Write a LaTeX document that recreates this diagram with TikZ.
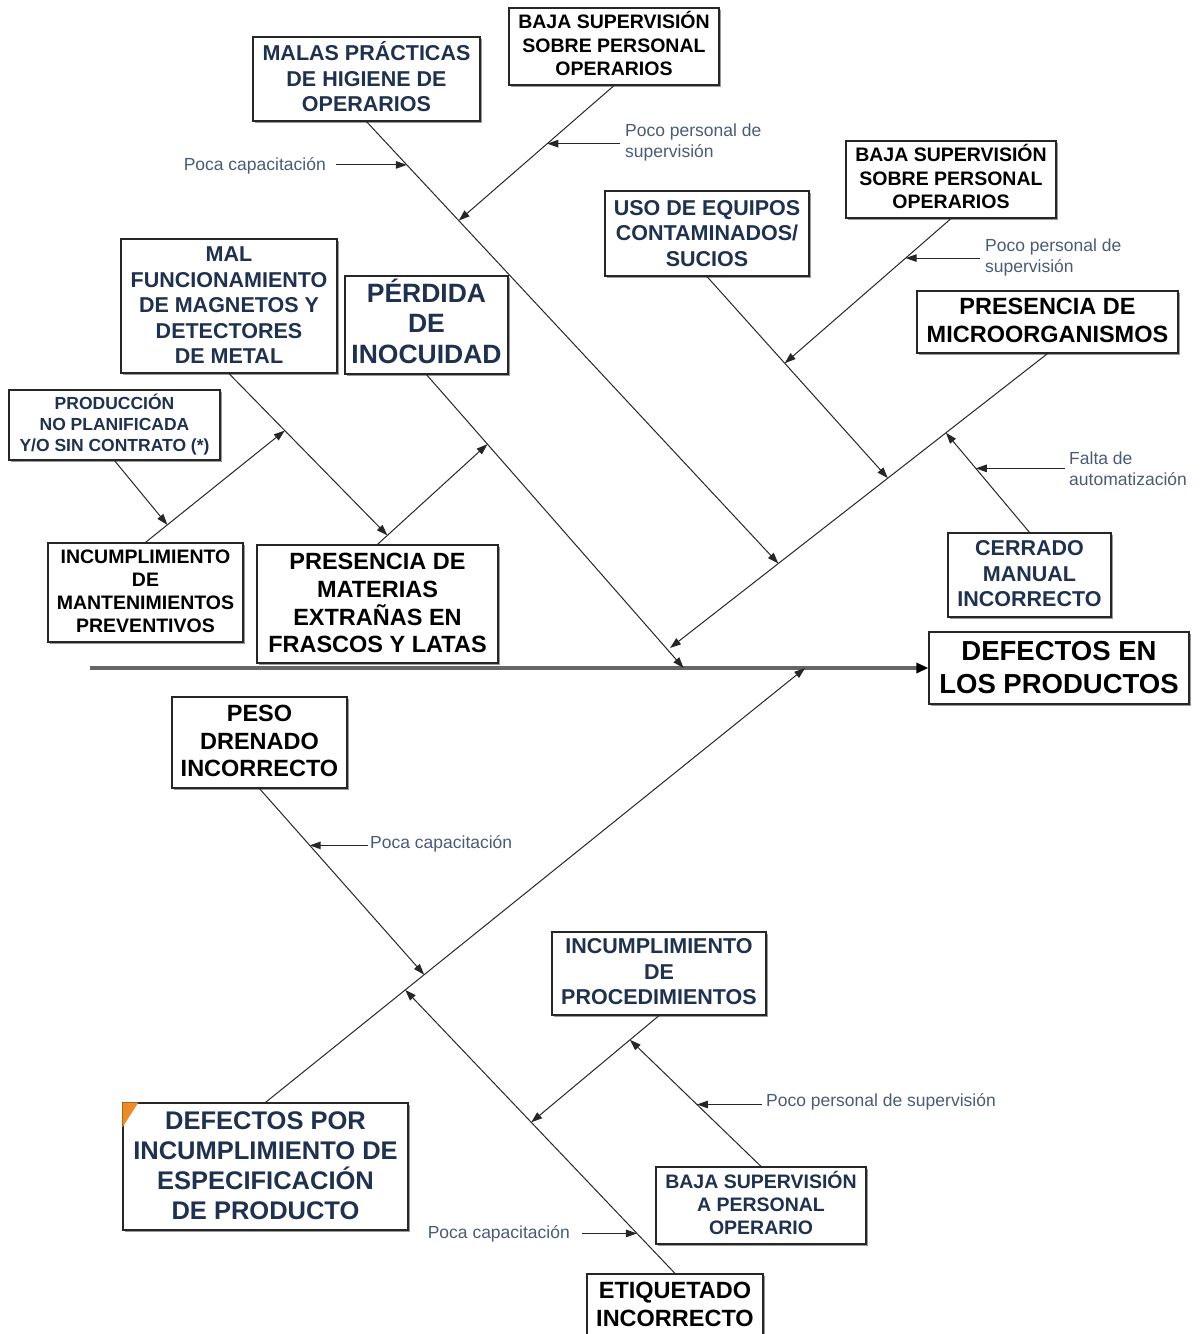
\documentclass[tikz,border=0pt]{standalone}
\usepackage{fontspec}
\setmainfont{Liberation Sans}
\usetikzlibrary{arrows.meta,shadows}
\definecolor{navy}{HTML}{1F3150}
\definecolor{slate}{HTML}{4A5A78}
\definecolor{flag}{HTML}{F08A24}
\begin{document}
\begin{tikzpicture}[x=1pt,y=-1pt,
  cause/.style={draw=black!85, line width=1.2pt, fill=white, inner sep=0pt, align=center,
    drop shadow={shadow xshift=1.6pt, shadow yshift=-1.6pt, fill=black!40, opacity=1}},
  tx/.style 2 args={font=\fontsize{#1}{#2}\selectfont\bfseries},
  note/.style={font=\fontsize{17.5}{21}\selectfont, text=slate, inner sep=0pt, align=left},
  bone/.style={draw=black!85, line width=1pt, -{Triangle[length=11pt,width=7.5pt]}},
  spine/.style={draw=black!60, line width=3.4pt, -{Triangle[length=12pt,width=10pt,color=black]}}]
\useasboundingbox (0,0) rectangle (1204,1334);

% cause boxes
\node[cause, tx={21.5}{25.5}, text=navy, text depth=5pt, minimum width=227pt, minimum height=84pt] (malas) at (366.5,79) {MALAS PRÁCTICAS\\DE HIGIENE DE\\OPERARIOS};
\node[cause, tx={19.5}{23.5}, text depth=6pt, minimum width=210pt, minimum height=77pt] (bajaA) at (614,46.5) {BAJA SUPERVISIÓN\\SOBRE PERSONAL\\OPERARIOS};
\node[cause, tx={19.5}{23.5}, text depth=6pt, minimum width=210pt, minimum height=77pt] (bajaB) at (951,179.5) {BAJA SUPERVISIÓN\\SOBRE PERSONAL\\OPERARIOS};
\node[cause, tx={21.5}{25.5}, text=navy, text depth=1pt, minimum width=204pt, minimum height=85pt] (uso) at (707,233.5) {USO DE EQUIPOS\\CONTAMINADOS/\\SUCIOS};
\node[cause, tx={21.5}{25.5}, text=navy, text depth=1pt, minimum width=216pt, minimum height=134pt] (malf) at (229,306) {MAL\\FUNCIONAMIENTO\\DE MAGNETOS Y\\DETECTORES\\DE METAL};
\node[cause, tx={26.5}{30.5}, text=navy, text depth=8pt, minimum width=163pt, minimum height=98pt] (perdida) at (426.5,325) {PÉRDIDA\\DE\\INOCUIDAD};
\node[cause, tx={17.5}{21}, text=navy, minimum width=211pt, minimum height=70pt] (prod) at (114.5,425) {PRODUCCIÓN\\NO PLANIFICADA\\Y/O SIN CONTRATO (*)};
\node[cause, tx={19.5}{23}, text depth=2pt, minimum width=195pt, minimum height=99pt] (mant) at (145.5,592.5) {INCUMPLIMIENTO\\DE\\MANTENIMIENTOS\\PREVENTIVOS};
\node[cause, tx={23.5}{27.7}, text depth=2pt, minimum width=241pt, minimum height=118pt] (materias) at (377.5,604) {PRESENCIA DE\\MATERIAS\\EXTRAÑAS EN\\FRASCOS Y LATAS};
\node[cause, tx={23.5}{28}, text depth=4pt, minimum width=261pt, minimum height=62pt] (micro) at (1047.5,322) {PRESENCIA DE\\MICROORGANISMOS};
\node[cause, tx={21.5}{25.5}, text=navy, text depth=3pt, minimum width=163pt, minimum height=84pt] (cerrado) at (1029.5,575) {CERRADO\\MANUAL\\INCORRECTO};
\node[cause, tx={27.5}{33}, text depth=2pt, minimum width=260pt, minimum height=72pt] (efecto) at (1059,668) {DEFECTOS EN\\LOS PRODUCTOS};
\node[cause, tx={23.5}{27.5}, text depth=3pt, minimum width=175pt, minimum height=91pt] (peso) at (259.5,742.5) {PESO\\DRENADO\\INCORRECTO};
\node[cause, tx={21.5}{25.5}, text=navy, text depth=4pt, minimum width=214pt, minimum height=83pt] (proc) at (659,973.5) {INCUMPLIMIENTO\\DE\\PROCEDIMIENTOS};
\node[cause, tx={19.5}{23}, text=navy, text depth=6pt, minimum width=210pt, minimum height=77pt] (bajaC) at (761,1205.5) {BAJA SUPERVISIÓN\\A PERSONAL\\OPERARIO};
\node[cause, tx={25.5}{30}, text=navy, text depth=2pt, minimum width=285pt, minimum height=127pt] (defpor) at (265.5,1166.5) {DEFECTOS POR\\INCUMPLIMIENTO DE\\ESPECIFICACIÓN\\DE PRODUCTO};
\node[cause, tx={23.5}{28}, text depth=2pt, minimum width=176pt, minimum height=62pt] (etiq) at (675,1305) {ETIQUETADO\\INCORRECTO};
\fill[flag] (defpor.north west) -- ++(16,0) -- ++(-16,25) -- cycle;

% sub-cause notes
\node[note, anchor=east] (n1) at (326,166) {Poca capacitación};
\node[note, anchor=west] (n2) at (625,142) {Poco personal de\\supervisión};
\node[note, anchor=west] (n3) at (985,257) {Poco personal de\\supervisión};
\node[note, anchor=west] (n4) at (1069,469) {Falta de\\automatización};
\node[note, anchor=west] (n5) at (370,844) {Poca capacitación};
\node[note, anchor=west] (n6) at (766,1102) {Poco personal de supervisión};
\node[note, anchor=east] (n7) at (570,1234) {Poca capacitación};

% main spine
\coordinate (tail) at (90,668);
\draw[spine] (tail) -- (efecto.west);
\path (tail) -- (efecto.west) coordinate[pos=0.708] (sG) coordinate[pos=0.853] (sL);

% upper bones
\coordinate (eE) at (670,648);
\draw[bone] (micro.south) -- (eE);
\path (micro.south) -- (eE) coordinate[pos=0.269] (pF) coordinate[pos=0.423] (pC) coordinate[pos=0.713] (pA);
\draw[bone] (malas.south) -- (pA);
\path (malas.south) -- (pA) coordinate[pos=0.224] (pB) coordinate[pos=0.098] (qA);
\draw[bone] (bajaA.south) -- (pB);
\path (bajaA.south) -- (pB) coordinate[pos=0.43] (qB);
\draw[bone] (uso.south) -- (pC);
\path (uso.south) -- (pC) coordinate[pos=0.43] (pD);
\draw[bone] (bajaB.south) -- (pD);
\path (bajaB.south) -- (pD) coordinate[pos=0.273] (qD);
\draw[bone] (cerrado.north) -- (pF);
\path (cerrado.north) -- (pF) coordinate[pos=0.643] (qF);
\draw[bone] (perdida.south) -- (sG);
\path (perdida.south) -- (sG) coordinate[pos=0.237] (pH);
\draw[bone] (materias.north) -- (pH);
\path (materias.north) -- (pH) coordinate[pos=0.09] (pI);
\draw[bone] (malf.south) -- (pI);
\path (malf.south) -- (pI) coordinate[pos=0.352] (pJ);
\draw[bone] (mant.north) -- (pJ);
\path (mant.north) -- (pJ) coordinate[pos=0.157] (pK);
\draw[bone] (prod.south) -- (pK);

% lower bones
\draw[bone] (defpor.north) -- (sL);
\path (defpor.north) -- (sL) coordinate[pos=0.294] (pM) coordinate[pos=0.259] (pN);
\draw[bone] (peso.south) -- (pM);
\path (peso.south) -- (pM) coordinate[pos=0.305] (qM);
\draw[bone] (etiq.north) -- (pN);
\path (etiq.north) -- (pN) coordinate[pos=0.533] (pO) coordinate[pos=0.141] (qN);
\draw[bone] (proc.south) -- (pO);
\path (proc.south) -- (pO) coordinate[pos=0.227] (pP);
\draw[bone] (bajaC.north) -- (pP);
\path (bajaC.north) -- (pP) coordinate[pos=0.489] (qP);

% note arrows
\coordinate (t1) at ([xshift=10pt]n1.east);
\coordinate (t2) at ([xshift=-5pt]n2.west);
\coordinate (t3) at ([xshift=-5pt]n3.west);
\coordinate (t4) at ([xshift=-4pt]n4.west);
\coordinate (t5) at ([xshift=-2pt]n5.west);
\coordinate (t6) at ([xshift=-4pt]n6.west);
\coordinate (t7) at ([xshift=12pt]n7.east);
\draw[bone] (t1 |- qA) -- (qA);
\draw[bone] (t2 |- qB) -- (qB);
\draw[bone] (t3 |- qD) -- (qD);
\draw[bone] (t4 |- qF) -- (qF);
\draw[bone] (t5 |- qM) -- (qM);
\draw[bone] (t6 |- qP) -- (qP);
\draw[bone] (t7 |- qN) -- (qN);
\end{tikzpicture}
\end{document}
